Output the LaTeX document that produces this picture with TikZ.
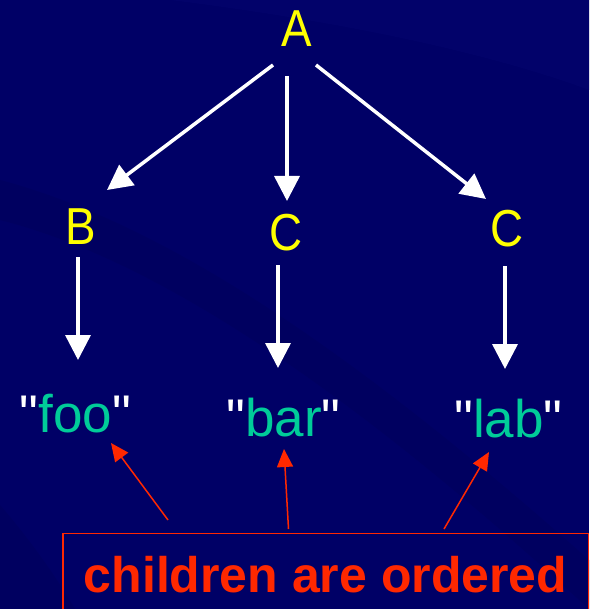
\documentclass[tikz,border=0pt]{standalone}
\usepackage{fontspec}
\setmainfont{Liberation Sans}[Ligatures=TeXOff]
\newfontfamily\narrowsans{Liberation Sans}[FakeStretch=0.88]
\usetikzlibrary{arrows.meta,calc}

\definecolor{slidebg}{RGB}{0,0,102}
\definecolor{slideband}{RGB}{0,0,96}
\definecolor{slidelight}{RGB}{2,2,106}
\definecolor{nodeyellow}{RGB}{255,255,0}
\definecolor{leafteal}{RGB}{0,204,153}
\definecolor{noteRed}{RGB}{255,40,0}

% straight double quote, drawn in white
\newcommand{\wq}{\textcolor{white}{"}}

\tikzset{
  inner/.style={text=nodeyellow, font=\narrowsans\fontsize{52}{60}\selectfont, inner sep=0pt, anchor=base},
  leaf/.style={text=leafteal, font=\fontsize{53}{60}\selectfont, inner sep=0pt, anchor=base},
  warrow/.style={draw=white, line width=3.5pt, -{Triangle[width=25pt,length=25pt]}},
  rarrow/.style={draw=noteRed, line width=1.5pt, -{Triangle[width=16pt,length=18pt]}},
  notebox/.style={draw=noteRed, line width=1.5pt, text=noteRed,
    font=\bfseries\fontsize{50}{60}\selectfont,
    inner xsep=21pt, inner ysep=22.5pt, anchor=base west},
}

\begin{document}
\begin{tikzpicture}[x=1pt,y=-1pt]
  % slide background with faint ribbon bands
  \fill[slidebg] (0,0) rectangle (589,609);
  \fill[slidelight] (170,0) .. controls (330,20) and (480,50) .. (589,90)
    -- (589,0) -- cycle;
  \fill[slideband] (0,180) .. controls (150,220) and (330,330) .. (589,560)
    -- (589,609) .. controls (330,370) and (140,255) .. (0,220) -- cycle;
  \fill[slideband] (0,505) .. controls (30,540) and (55,575) .. (75,609)
    -- (0,609) -- cycle;
  \useasboundingbox (0,0) rectangle (589,609);

  % tree nodes
  \node[inner] (A)  at (297,47)  {A};
  \node[inner] (B)  at (81,244)  {B};
  \node[inner] (C1) at (286,251) {C};
  \node[inner] (C2) at (507,247) {C};

  % leaves
  \node[leaf] (foo) at (75.5,432) {\wq foo\wq};
  \node[leaf] (bar) at (283.5,436) {\wq bar\wq};
  \node[leaf] (lab) at (508.5,437) {\wq lab\wq};

  % edges
  \draw[warrow] ($(A.base)+(-24,18)$) -- ($(B.base)+(26,-54)$);
  \draw[warrow] ($(A.base)+(-10,29)$) -- ($(C1.base)+(1,-50)$);
  \draw[warrow] ($(A.base)+(19,18)$)  -- ($(C2.base)+(-21,-48)$);
  \draw[warrow] ($(B.base)+(-3,13)$)  -- ($(foo.base)+(2.5,-72)$);
  \draw[warrow] ($(C1.base)+(-8,14)$) -- ($(bar.base)+(-5.5,-68)$);
  \draw[warrow] ($(C2.base)+(-2,19)$) -- ($(lab.base)+(-3.5,-68)$);

  % note
  \node[notebox] (note) at (62,592) {children are ordered};
  \draw[rarrow] ($(note.base west)+(106,-72)$)   -- ($(foo.base)+(35.5,11)$);
  \draw[rarrow] ($(note.base west)+(226.5,-63)$) -- ($(bar.base)+(0.5,13)$);
  \draw[rarrow] ($(note.base west)+(382,-63)$)   -- ($(lab.base)+(-19.5,15)$);
\end{tikzpicture}
\end{document}
